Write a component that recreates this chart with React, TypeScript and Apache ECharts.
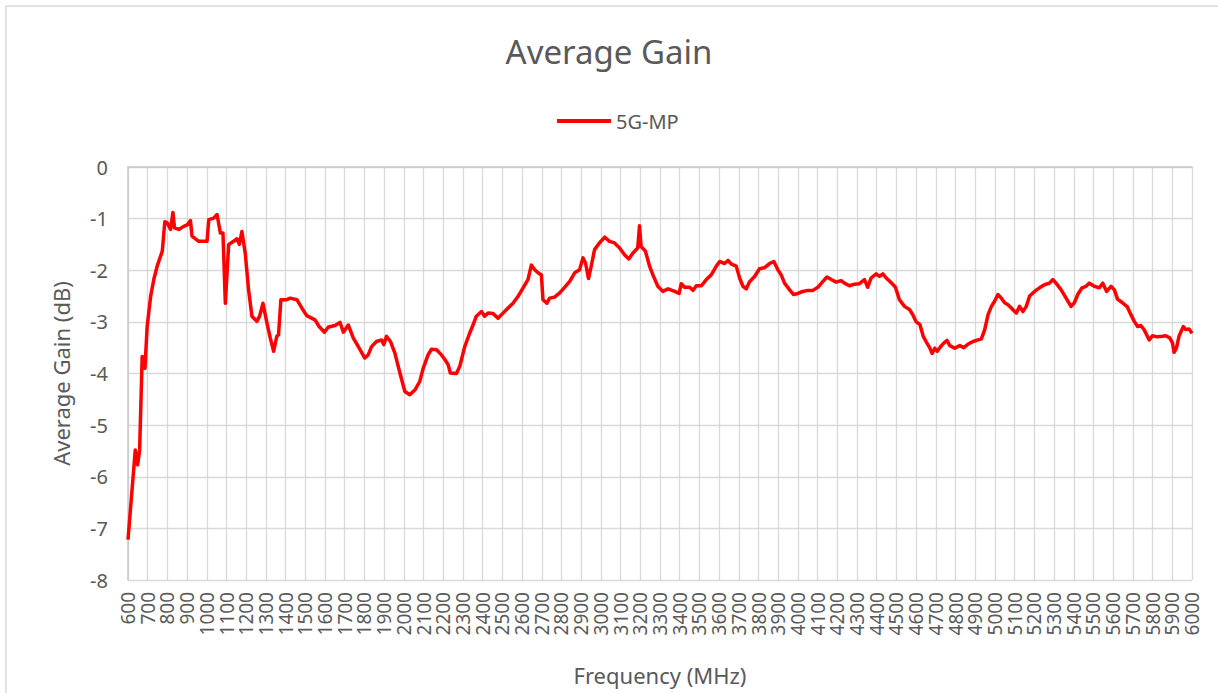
import React, { useEffect, useRef } from "react";
import * as echarts from "echarts";

const chartTitle = "Average Gain";
const seriesName = "5G-MP";
const xAxisName = "Frequency (MHz)";
const yAxisName = "Average Gain (dB)";

const freqMHz = [
  600, 637, 649, 659, 672, 686, 697, 715, 731, 748, 774, 787, 799, 816, 828, 836, 858, 883, 900, 917,
  925, 959, 984, 1001, 1010, 1035, 1052, 1069, 1082, 1094, 1111, 1136, 1153, 1165, 1178, 1195, 1212, 1229, 1254, 1268,
  1285, 1305, 1322, 1339, 1355, 1364, 1376, 1406, 1423, 1457, 1482, 1507, 1549, 1570, 1597, 1617, 1651, 1676, 1693, 1718,
  1743, 1769, 1802, 1819, 1836, 1861, 1887, 1898, 1912, 1932, 1954, 1980, 2005, 2030, 2056, 2081, 2098, 2123, 2140, 2166,
  2191, 2208, 2225, 2236, 2267, 2284, 2309, 2334, 2351, 2368, 2394, 2410, 2427, 2453, 2478, 2503, 2529, 2554, 2579, 2605,
  2630, 2647, 2664, 2681, 2698, 2706, 2726, 2740, 2765, 2791, 2816, 2841, 2867, 2892, 2909, 2922, 2937, 2951, 2968, 2993,
  3019, 3044, 3069, 3095, 3120, 3142, 3162, 3187, 3196, 3204, 3226, 3247, 3264, 3289, 3314, 3341, 3375, 3397, 3408, 3425,
  3451, 3468, 3484, 3510, 3535, 3560, 3586, 3603, 3628, 3645, 3662, 3687, 3704, 3721, 3738, 3755, 3780, 3805, 3831, 3856,
  3878, 3898, 3915, 3932, 3958, 3978, 4000, 4025, 4050, 4076, 4101, 4126, 4147, 4169, 4194, 4219, 4236, 4261, 4287, 4312,
  4338, 4354, 4371, 4397, 4414, 4431, 4448, 4473, 4495, 4515, 4541, 4566, 4583, 4600, 4619, 4636, 4653, 4670, 4681, 4695,
  4707, 4724, 4740, 4757, 4771, 4796, 4821, 4842, 4864, 4889, 4914, 4931, 4948, 4965, 4982, 4998, 5015, 5032, 5049, 5066,
  5083, 5108, 5125, 5142, 5159, 5176, 5201, 5226, 5251, 5277, 5294, 5310, 5336, 5361, 5386, 5403, 5420, 5442, 5462, 5479,
  5504, 5530, 5547, 5567, 5589, 5606, 5622, 5647, 5672, 5690, 5707, 5724, 5740, 5757, 5783, 5799, 5825, 5850, 5867, 5887,
  5901, 5909, 5921, 5934, 5956, 5968, 5985, 6000,
];

const gainDb = [
  -7.22, -5.48, -5.77, -5.48, -3.67, -3.9, -3.1, -2.5, -2.18, -1.92, -1.63, -1.06, -1.08, -1.21, -0.88, -1.18, -1.21, -1.15, -1.12, -1.04,
  -1.34, -1.44, -1.44, -1.44, -1.02, -0.99, -0.92, -1.28, -1.28, -2.64, -1.5, -1.44, -1.39, -1.5, -1.25, -1.67, -2.38, -2.89, -2.99, -2.89,
  -2.64, -3.02, -3.31, -3.57, -3.28, -3.25, -2.57, -2.57, -2.54, -2.57, -2.73, -2.88, -2.96, -3.09, -3.2, -3.1, -3.07, -3.01, -3.2, -3.06,
  -3.31, -3.48, -3.7, -3.64, -3.48, -3.38, -3.35, -3.44, -3.28, -3.38, -3.6, -3.99, -4.35, -4.41, -4.32, -4.15, -3.9, -3.64, -3.53, -3.54,
  -3.64, -3.73, -3.83, -3.99, -4.0, -3.86, -3.48, -3.22, -3.06, -2.89, -2.8, -2.89, -2.83, -2.84, -2.93, -2.83, -2.73, -2.64, -2.51, -2.34,
  -2.18, -1.9, -1.99, -2.05, -2.09, -2.57, -2.64, -2.54, -2.52, -2.44, -2.33, -2.22, -2.05, -1.99, -1.76, -1.86, -2.16, -1.92, -1.6, -1.47,
  -1.36, -1.44, -1.47, -1.57, -1.7, -1.78, -1.67, -1.57, -1.14, -1.54, -1.63, -1.92, -2.09, -2.31, -2.41, -2.36, -2.41, -2.45, -2.26, -2.33,
  -2.33, -2.39, -2.3, -2.3, -2.18, -2.09, -1.92, -1.83, -1.87, -1.81, -1.88, -1.92, -2.15, -2.31, -2.36, -2.22, -2.12, -1.97, -1.95, -1.87,
  -1.83, -1.99, -2.09, -2.25, -2.38, -2.47, -2.45, -2.41, -2.39, -2.39, -2.33, -2.22, -2.13, -2.18, -2.23, -2.2, -2.25, -2.3, -2.27, -2.26,
  -2.18, -2.33, -2.15, -2.07, -2.12, -2.07, -2.15, -2.24, -2.33, -2.57, -2.7, -2.76, -2.86, -3.0, -3.05, -3.28, -3.4, -3.51, -3.61, -3.51,
  -3.57, -3.48, -3.41, -3.36, -3.46, -3.51, -3.46, -3.5, -3.43, -3.38, -3.35, -3.33, -3.15, -2.86, -2.7, -2.6, -2.47, -2.54, -2.63, -2.67,
  -2.73, -2.83, -2.7, -2.8, -2.7, -2.5, -2.41, -2.34, -2.28, -2.25, -2.18, -2.25, -2.38, -2.54, -2.7, -2.63, -2.47, -2.34, -2.31, -2.25,
  -2.31, -2.34, -2.25, -2.41, -2.31, -2.38, -2.56, -2.63, -2.71, -2.86, -2.99, -3.09, -3.07, -3.15, -3.35, -3.27, -3.29, -3.28, -3.27, -3.31,
  -3.41, -3.59, -3.51, -3.28, -3.09, -3.15, -3.14, -3.22,
];

const FONT = "'Noto Sans', 'Noto Sans CJK SC', sans-serif";
const TEXT_COLOR = "#595959";
const GRID_COLOR = "#d9d9d9";

export default function App() {
  const ref = useRef<HTMLDivElement>(null);

  useEffect(() => {
    document.body.style.margin = "0";
    if (!ref.current) return;
    const chart = echarts.init(ref.current, null, { renderer: "svg" });
    const data = freqMHz.map((f, i) => [f, gainDb[i]]);
    chart.setOption({
      animation: false,
      backgroundColor: "#ffffff",
      textStyle: { fontFamily: FONT },
      title: {
        text: chartTitle,
        left: "center",
        top: 30,
        textStyle: { fontFamily: FONT, fontSize: 33, fontWeight: "normal", color: TEXT_COLOR },
      },
      legend: {
        data: [{ name: seriesName, icon: "rect" }],
        left: 552,
        top: 106,
        itemWidth: 54,
        itemHeight: 4,
        itemGap: 6,
        textStyle: { fontFamily: FONT, fontSize: 20, color: TEXT_COLOR },
      },
      grid: { left: 128, right: 26, top: 167, bottom: 113, containLabel: false },
      xAxis: {
        type: "value",
        min: 600,
        max: 6000,
        interval: 100,
        name: xAxisName,
        nameLocation: "middle",
        nameGap: 84,
        nameTextStyle: { fontFamily: FONT, fontSize: 22, color: TEXT_COLOR },
        axisLine: { show: true, lineStyle: { color: "#c8c8c8", width: 1.5 } },
        axisTick: { show: false },
        axisLabel: {
          rotate: 90,
          margin: 12,
          fontFamily: FONT,
          fontSize: 19,
          color: TEXT_COLOR,
          showMinLabel: true,
          showMaxLabel: true,
          hideOverlap: false,
          formatter: (v: number) => String(v),
        },
        splitLine: { show: true, lineStyle: { color: GRID_COLOR, width: 1.3 } },
      },
      yAxis: {
        type: "value",
        min: -8,
        max: 0,
        interval: 1,
        name: yAxisName,
        nameLocation: "middle",
        nameGap: 56,
        nameTextStyle: { fontFamily: FONT, fontSize: 22, color: TEXT_COLOR },
        axisLine: { show: true, lineStyle: { color: "#c8c8c8", width: 1.5 } },
        axisTick: { show: false },
        axisLabel: { margin: 20, fontFamily: FONT, fontSize: 20, color: TEXT_COLOR },
        splitLine: { show: true, lineStyle: { color: GRID_COLOR, width: 1.3 } },
      },
      series: [
        {
          name: seriesName,
          type: "line",
          data,
          symbol: "none",
          smooth: false,
          lineStyle: { color: "#ff0000", width: 3.5, join: "round" },
          itemStyle: { color: "#ff0000" },
        },
      ],
      graphic: [
        { type: "line", shape: { x1: 6, y1: 6, x2: 1218, y2: 6 }, style: { stroke: GRID_COLOR, lineWidth: 1.5 } },
        { type: "line", shape: { x1: 6, y1: 6, x2: 6, y2: 693 }, style: { stroke: GRID_COLOR, lineWidth: 1.5 } },
      ],
    });
    return () => chart.dispose();
  }, []);

  return <div ref={ref} style={{ width: 1218, height: 693 }} />;
}
